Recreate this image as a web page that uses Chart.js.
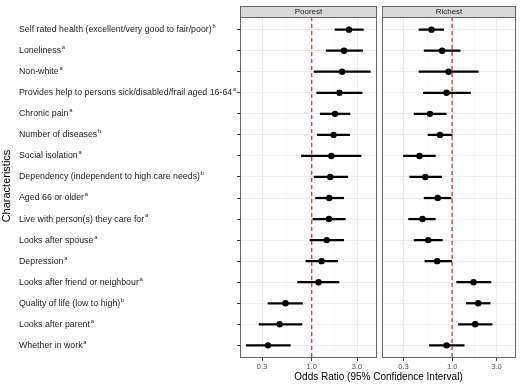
<!DOCTYPE html>
<html>
<head>
<meta charset="utf-8">
<script src="https://cdn.jsdelivr.net/npm/chart.js@4.4.1/dist/chart.umd.min.js"></script>
<style>
  html, body { margin: 0; padding: 0; background: #fff; }
  #wrap { position: relative; width: 520px; height: 384px; }
  #wrap canvas { position: absolute; left: 0; top: 0; }
</style>
</head>
<body>
<div id="wrap">
  <canvas id="poorest" width="520" height="384"></canvas>
  <canvas id="richest" width="520" height="384"></canvas>
</div>
<script>
// qatorlar (yuqoridan pastga)
const characteristics = [
  "Self rated health (excellent/very good to fair/poor)",
  "Loneliness",
  "Non-white",
  "Provides help to persons sick/disabled/frail aged 16-64",
  "Chronic pain",
  "Number of diseases",
  "Social isolation",
  "Dependency (independent to high care needs)",
  "Aged 66 or older",
  "Live with person(s) they care for",
  "Looks after spouse",
  "Depression",
  "Looks after friend or neighbour",
  "Quality of life (low to high)",
  "Looks after parent",
  "Whether in work",
];
// izohlar belgisi (a / b)
const notes = ["b", "a", "a", "a", "a", "b", "a", "b", "a", "a", "a", "a", "a", "b", "a", "a"];

const poorestOR = [2.47, 2.19, 2.09, 1.96, 1.76, 1.70, 1.61, 1.57, 1.53, 1.52, 1.44, 1.27, 1.18, 0.53, 0.46, 0.347];
const poorestLow = [1.76, 1.42, 1.06, 1.13, 1.23, 1.15, 0.78, 1.06, 1.10, 1.03, 0.96, 0.87, 0.71, 0.347, 0.279, 0.205];
const poorestHigh = [3.50, 3.44, 4.15, 3.39, 2.53, 2.51, 3.31, 2.39, 2.17, 2.26, 2.17, 1.88, 1.94, 0.80, 0.79, 0.596];

const richestOR = [0.60, 0.78, 0.915, 0.87, 0.577, 0.74, 0.446, 0.515, 0.70, 0.48, 0.554, 0.69, 1.70, 1.91, 1.77, 0.87];
const richestLow = [0.44, 0.50, 0.44, 0.49, 0.39, 0.55, 0.30, 0.35, 0.50, 0.34, 0.39, 0.51, 1.12, 1.42, 1.17, 0.57];
const richestHigh = [0.81, 1.22, 1.91, 1.58, 0.865, 1.0, 0.66, 0.77, 0.975, 0.66, 0.785, 0.99, 2.62, 2.57, 2.70, 1.35];

const xTicks = [0.3, 1, 3];
const refValue = 1; // qizil chiziq

const xMin = 0.176, xMax = 4.87;
const yMin = -0.6, yMax = characteristics.length - 1 + 0.6;

// minor chiziqlar katta chiziqlar orasida (log bo'yicha o'rtasi)
const xGrid = [];
xTicks.forEach((v, i) => {
  xGrid.push(v);
  if (i < xTicks.length - 1) xGrid.push(Math.sqrt(v * xTicks[i + 1]));
});

const font = "'Liberation Sans', 'DejaVu Sans', Arial, sans-serif";
const labelSize = 8.8;

const facetPlugin = {
  id: "facet",
  beforeDraw(chart) {
    const a = chart.chartArea;
    const ctx = chart.ctx;
    ctx.save();
    ctx.fillStyle = "#fff";
    ctx.fillRect(a.left, a.top, a.right - a.left, a.bottom - a.top);
    ctx.restore();
  },
  afterDraw(chart, args, opts) {
    const a = chart.chartArea;
    const ctx = chart.ctx;
    ctx.save();
    // strip
    ctx.fillStyle = "#d9d9d9";
    ctx.fillRect(a.left, 6, a.right - a.left, a.top - 6);
    ctx.strokeStyle = "#666";
    ctx.lineWidth = 1;
    ctx.strokeRect(Math.round(a.left) + 0.5, 6.5, Math.round(a.right - a.left) - 1, Math.round(a.top) - 6);
    ctx.strokeRect(Math.round(a.left) + 0.5, Math.round(a.top) + 0.5, Math.round(a.right - a.left) - 1, Math.round(a.bottom - a.top) - 1);
    ctx.fillStyle = "#1a1a1a";
    ctx.font = "8px " + font;
    ctx.textAlign = "center";
    ctx.textBaseline = "middle";
    ctx.fillText(opts.label, (a.left + a.right) / 2, (6 + a.top) / 2 + 0.5);

    // yorliqlarga kichik a/b belgilari
    if (opts.notes) {
      const ys = chart.scales.y;
      ctx.textAlign = "left";
      ctx.textBaseline = "alphabetic";
      characteristics.forEach((name, i) => {
        ctx.font = labelSize + "px " + font;
        const w = ctx.measureText(name).width;
        const y = ys.getPixelForValue(i);
        ctx.font = "5.8px " + font;
        ctx.fillText(opts.notes[i], ys.left + w + 0.8, y - 1.6);
      });
    }

    // o'q nomlari
    ctx.fillStyle = "#000";
    ctx.textAlign = "center";
    ctx.textBaseline = "middle";
    if (opts.xTitle) {
      ctx.font = "10px " + font;
      ctx.fillText(opts.xTitle, 378.5, 377.5);
    }
    if (opts.yTitle) {
      ctx.font = "11px " + font;
      ctx.translate(6.5, 186);
      ctx.rotate(-Math.PI / 2);
      ctx.fillText(opts.yTitle, 0, 0);
    }
    ctx.restore();
  },
};

function drawPanel(id, label, or, low, high, isLeft) {
  const ctx = document.getElementById(id).getContext("2d");
  return new Chart(ctx, {
    type: "bar",
    data: {
      datasets: [
        {
          type: "scatter",
          data: or.map((v, i) => ({ x: v, y: i })),
          pointRadius: 3.2,
          pointBackgroundColor: "#000",
          pointBorderWidth: 0,
        },
        {
          type: "line",
          data: [{ x: refValue, y: yMin }, { x: refValue, y: yMax }],
          borderColor: "#e03c50",
          borderWidth: 1.4,
          borderDash: [4, 3],
          pointRadius: 0,
          fill: false,
        },
        {
          type: "bar",
          data: low.map((v, i) => ({ x: [v, high[i]], y: i })),
          backgroundColor: "#000",
          borderWidth: 0,
          barThickness: 1.6,
        },
      ],
    },
    options: {
      indexAxis: "y",
      responsive: false,
      animation: false,
      events: [],
      layout: {
        padding: isLeft
          ? { left: 19, right: 143, top: 17, bottom: 0 }
          : { left: 382, right: 3, top: 17, bottom: 0 },
      },
      plugins: {
        legend: { display: false },
        tooltip: { enabled: false },
        facet: {
          label: label,
          notes: isLeft ? notes : null,
          xTitle: isLeft ? "" : "Odds Ratio (95% Confidence Interval)",
          yTitle: isLeft ? "Characteristics" : "",
        },
      },
      scales: {
        x: {
          type: "logarithmic",
          min: xMin,
          max: xMax,
          afterBuildTicks: (scale) => {
            scale.ticks = xGrid.map((v) => ({ value: v }));
          },
          afterFit: (scale) => {
            scale.height = 26;
          },
          ticks: {
            autoSkip: false,
            maxRotation: 0,
            padding: 1,
            color: "#4d4d4d",
            font: { family: font, size: 7.5 },
            callback: (v) => (xTicks.includes(v) ? v.toFixed(1) : ""),
          },
          grid: {
            color: (c) => (c.tick && xTicks.includes(c.tick.value) ? "#ebebeb" : "#f2f2f2"),
            lineWidth: (c) => (c.tick && xTicks.includes(c.tick.value) ? 1 : 0.6),
            tickColor: (c) => (c.tick && xTicks.includes(c.tick.value) ? "#333" : "rgba(0,0,0,0)"),
            tickLength: 3,
          },
          border: { display: false },
        },
        y: {
          type: "linear",
          min: yMin,
          max: yMax,
          reverse: true,
          offset: false,
          afterBuildTicks: (scale) => {
            scale.ticks = characteristics.map((c, i) => ({ value: i }));
          },
          afterFit: (scale) => {
            scale.width = isLeft ? 221 : 0;
          },
          ticks: {
            display: isLeft,
            autoSkip: false,
            crossAlign: "far",
            color: "#1a1a1a",
            font: { family: font, size: labelSize },
            callback: (v) => characteristics[v],
          },
          grid: {
            offset: false,
            color: "#ebebeb",
            lineWidth: 1,
            drawTicks: isLeft,
            tickColor: "#333",
            tickLength: 3,
          },
          border: { display: false },
        },
      },
    },
    plugins: [facetPlugin],
  });
}

drawPanel("poorest", "Poorest", poorestOR, poorestLow, poorestHigh, true);
drawPanel("richest", "Richest", richestOR, richestLow, richestHigh, false);
</script>
</body>
</html>
